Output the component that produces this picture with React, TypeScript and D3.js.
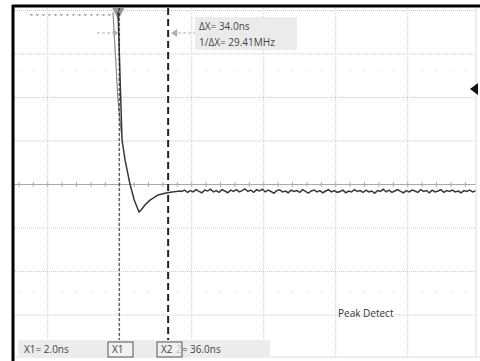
import React from 'react';
import * as d3 from 'd3';

// time (ns) and level (divisions from centre)
const edgeT = [-0.2, 2.6, 4.7, 8.1, 11, 14.4, 16, 18.5, 22.0, 27.6, 32.4, 37.3, 42.8];
const edgeV = [3.97, 1.02, 0.56, 0.01, -0.35, -0.63, -0.58, -0.47, -0.36, -0.24, -0.2, -0.17, -0.15];

// leading edge of the peak-detect envelope
const envT = [-3.7, -0.2, 2.0];
const envV = [3.96, 1.94, 1.2];

// settled part, one sample every 2 ns from 44 ns
const flatStart = 44;
const flatStep = 2;
const flatV = [
  -0.16, -0.13, -0.18, -0.14, -0.17, -0.12, -0.16, -0.19, -0.13, -0.15,
  -0.11, -0.17, -0.14, -0.18, -0.12, -0.15, -0.19, -0.13, -0.16, -0.12,
  -0.17, -0.14, -0.10, -0.16, -0.13, -0.18, -0.12, -0.15, -0.11, -0.17,
  -0.13, -0.16, -0.20, -0.14, -0.12, -0.17, -0.15, -0.19, -0.13, -0.16,
  -0.14, -0.18, -0.12, -0.16, -0.20, -0.15, -0.13, -0.17, -0.14, -0.19,
  -0.15, -0.12, -0.17, -0.14, -0.18, -0.16, -0.13, -0.19, -0.15, -0.17,
  -0.12, -0.16, -0.14, -0.18, -0.13, -0.17, -0.15, -0.20, -0.14, -0.16,
  -0.11, -0.17, -0.13, -0.18, -0.15, -0.12, -0.16, -0.19, -0.14, -0.17,
  -0.13, -0.15, -0.18, -0.12, -0.16, -0.14, -0.19, -0.13, -0.17, -0.15,
  -0.12, -0.18, -0.14, -0.16, -0.13, -0.17, -0.15, -0.19, -0.14, -0.16,
  -0.13, -0.17, -0.15,
];

// clipped pre-trigger trace (above screen)
const clipT = [-61, -4.4];

const gridT = [-49, 1, 51, 101, 151, 201, 251];
const gridV = [-3, -2, -1, 1, 2, 3, 4];
const faintV = [2.6, -2.47];

const cursorX1 = 2.0;
const cursorX2 = 36.0;
const readDelta = 'ΔX= 34.0ns';
const readInv = '1/ΔX= 29.41MHz';
const readX1 = 'X1= 2.0ns';
const readX2 = '2= 36.0ns';
const modeLabel = 'Peak Detect';

const W = 480;
const H = 361;
const font = '"Open Sans", "Noto Sans", sans-serif';

const App = () => {
  const x = d3.scaleLinear().domain([0, 50]).range([118.3, 190.3]);
  const y = d3.scaleLinear().domain([-4, 4]).range([358.5, 10.5]);

  const line = d3.line<[number, number]>()
    .x(d => x(d[0]))
    .y(d => y(d[1]));

  const edgePts: [number, number][] = edgeT.map((t, i) => [t, edgeV[i]]);
  const flatPts: [number, number][] = flatV.map((v, i) => [flatStart + i * flatStep, v]);
  const tracePts = edgePts.concat(flatPts);
  const envPts: [number, number][] = envT.map((t, i) => [t, envV[i]]);

  const minorTicks = d3.range(-70, 250, 10).map(t => t + 1);
  const faintDots = d3.range(-70, 250, 10).map(t => t + 1);

  const left = 13;
  const right = 476;
  const top = 8;
  const bottom = 357;

  const xc1 = x(cursorX1) - 2;
  const xc2 = x(cursorX2) - 2;

  return (
    <div style={{ position: 'fixed', left: 0, top: 0 }}>
      <svg width={W} height={H} style={{ display: 'block', background: '#fff' }}>
        {/* graticule */}
        {gridT.map(t => x(t)).filter(px => px > left && px < right).map((px, i) => (
          <line key={'gx' + i} x1={px} x2={px} y1={top} y2={bottom}
            stroke="#c8c8c8" strokeWidth={1} strokeDasharray="1,1" />
        ))}
        {gridV.map((v, i) => (
          <line key={'gy' + i} x1={left} x2={right} y1={y(v)} y2={y(v)}
            stroke="#c8c8c8" strokeWidth={1} strokeDasharray="1,1" />
        ))}
        {faintV.map((v, i) => faintDots.map((t, j) => (
          <line key={'fd' + i + '-' + j} x1={x(t)} x2={x(t)} y1={y(v) - 1} y2={y(v) + 1}
            stroke="#e2e2e2" strokeWidth={1} />
        )))}
        <line x1={left} x2={right} y1={y(0)} y2={y(0)} stroke="#aaa" strokeWidth={1} />
        {minorTicks.filter(t => x(t) > left && x(t) < right).map((t, i) => (
          <line key={'mt' + i} x1={x(t)} x2={x(t)} y1={y(0) - 2.5} y2={y(0) + 2.5}
            stroke="#aaa" strokeWidth={1} />
        ))}
        <line x1={right} x2={right} y1={top} y2={bottom} stroke="#ddd" strokeWidth={1} />
        <line x1={left} x2={W} y1={bottom} y2={bottom} stroke="#ddd" strokeWidth={1} />

        {/* clipped trace at top edge */}
        <line x1={x(clipT[0])} x2={x(clipT[1])} y1={y(3.9)} y2={y(3.9)}
          stroke="#777" strokeWidth={1.2} strokeDasharray="2,4" />

        {/* trigger marker */}
        <path d={`M${x(0) - 6},${top} L${x(0) + 6},${top} L${x(0)},${top + 12} Z`} fill="#999" />

        {/* envelope and trace */}
        <path d={line(envPts) || ''} fill="none" stroke="#8a8a8a" strokeWidth={1.2} />
        <path d={line(tracePts) || ''} fill="none" stroke="#383838" strokeWidth={1.5} strokeLinejoin="miter" />

        {/* cursor intersection markers */}
        <line x1={97} x2={113} y1={33} y2={33} stroke="#b0b0b0" strokeDasharray="3,2" />
        <path d={`M${xc1 - 6},29 L${xc1 - 6},37 L${xc1 - 1},33 Z`} fill="#b0b0b0" />
        <line x1={xc2 + 10} x2={196} y1={33} y2={33} stroke="#b0b0b0" strokeDasharray="3,2" />
        <path d={`M${xc2 + 9},29 L${xc2 + 9},37 L${xc2 + 3},33 Z`} fill="#b0b0b0" />

        {/* cursors */}
        <line x1={xc1} x2={xc1} y1={top} y2={bottom} stroke="#222" strokeWidth={1} strokeDasharray="3,2" />
        <line x1={xc2} x2={xc2} y1={top} y2={bottom} stroke="#222" strokeWidth={2} strokeDasharray="7,4" />

        {/* delta readout */}
        <rect x={195} y={17} width={102} height={33} fill="#ebebeb" />
        <text x={199} y={30} fontFamily={font} fontSize={10} fill="#444">{readDelta}</text>
        <text x={199} y={46} fontFamily={font} fontSize={10} fill="#444">{readInv}</text>

        {/* level marker */}
        <path d="M470,89 L478,83 L478,95 Z" fill="#111" />

        <text x={338} y={317} fontFamily={font} fontSize={10} fill="#333">{modeLabel}</text>

        {/* bottom readout */}
        <rect x={18} y={340} width={252} height={17} fill="#ececec" />
        <text x={24} y={353} fontFamily={font} fontSize={10} fill="#444">{readX1}</text>
        <rect x={108} y={342} width={25} height={15} fill="#f2f2f2" stroke="#555" strokeWidth={1} />
        <text x={112} y={353} fontFamily={font} fontSize={10} fill="#444">X1</text>
        <text x={176} y={353} fontFamily={font} fontSize={10} fill="#444">{readX2}</text>
        <rect x={157} y={342} width={25} height={15} fill="#f2f2f2" fillOpacity={0.7} stroke="#555" strokeWidth={1} />
        <text x={161} y={353} fontFamily={font} fontSize={10} fill="#444">X2</text>

        {/* frame */}
        <line x1={13} x2={13} y1={5} y2={H} stroke="#000" strokeWidth={3} />
        <line x1={12} x2={W} y1={6} y2={6} stroke="#000" strokeWidth={3} />
      </svg>
    </div>
  );
};

export default App;
